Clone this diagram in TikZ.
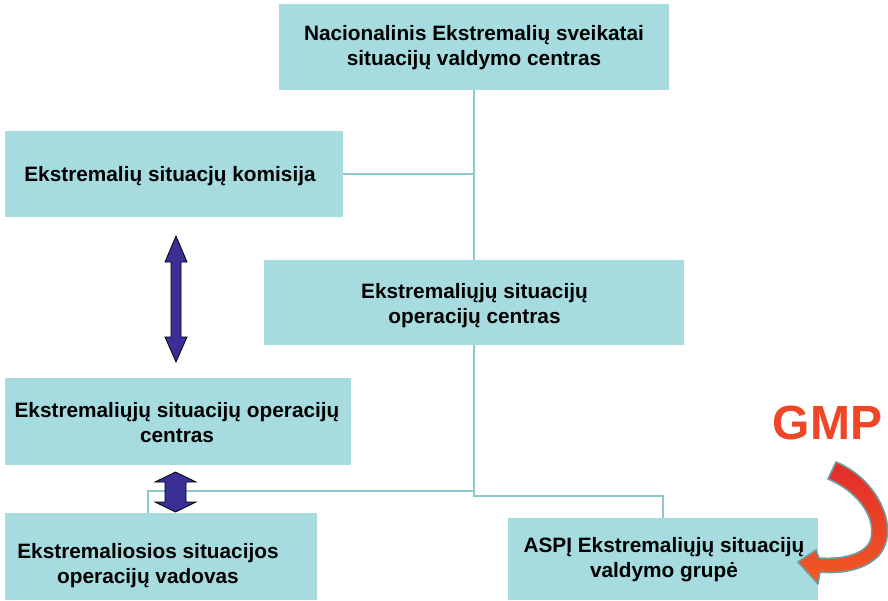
\documentclass[tikz,border=0pt]{standalone}
\usepackage{fontspec}
\setmainfont{Liberation Sans}
\definecolor{boxfill}{HTML}{A6DCE0}
\definecolor{linec}{HTML}{8CC8CE}
\definecolor{arrblue}{HTML}{3A2F96}
\definecolor{gmpred}{HTML}{EE4626}
\definecolor{redtop}{HTML}{E32B2B}
\definecolor{redbot}{HTML}{F15A24}
\definecolor{arrborder}{HTML}{6E9CA0}
\begin{document}
\begin{tikzpicture}[x=0.75pt,y=-0.75pt,
  box/.style={fill=boxfill,draw=none,inner sep=0pt},
  lbl/.style={font=\bfseries\fontsize{15.6}{18.75}\selectfont,align=center,inner sep=0pt},
  conn/.style={draw=linec,line width=1.5pt},
  dblarrow/.style={fill=arrblue,draw=black,line width=0.6pt,line join=miter}]
\useasboundingbox (0,0) rectangle (888,600);
% boxes
\node[box,minimum width=292.5pt,minimum height=64.5pt] (top) at (474,47) {};
\node[lbl] at (474,47.5) {Nacionalinis Ekstremalių sveikatai\\situacijų valdymo centras};
\node[box,minimum width=253.5pt,minimum height=64.5pt] (esk) at (174,174) {};
\node[lbl] at (170,176) {Ekstremalių situacjų komisija};
\node[box,minimum width=315pt,minimum height=63.75pt] (esoc) at (474,302.5) {};
\node[lbl] at (474.5,305.5) {Ekstremaliųjų situacijų\\operacijų centras};
\node[box,minimum width=259.5pt,minimum height=65.25pt] (esocl) at (178,421.5) {};
\node[lbl] at (177,422.5) {Ekstremaliųjų situacijų operacijų\\centras};
\node[box,minimum width=234pt,minimum height=65.25pt] (esov) at (161,556.5) {};
\node[lbl] at (148,565.5) {Ekstremaliosios situacijos\\operacijų vadovas};
\node[box,minimum width=232.5pt,minimum height=61.5pt] (aspi) at (663,559) {};
\node[lbl] at (664,560) {ASPĮ Ekstremaliųjų situacijų\\valdymo grupė};
% connectors
\coordinate (j1) at (esoc.south |- 0,491);
\coordinate (j2) at (esoc.south |- 0,496);
\draw[conn] (top.south) -- (esoc.north);
\draw[conn] (esk.east) -- (esk.east -| top.south);
\draw[conn] (esoc.south) -- (j2) -| (aspi.north);
\draw[conn] (j1) -| (148,513);
% big double arrow
\draw[dblarrow] (176,236) -- (187,262) -- (181,262) -- (181,337) -- (187,337) -- (176,362) -- (165,337) -- (171,337) -- (171,262) -- (165,262) -- cycle;
% small double arrow
\draw[dblarrow] (175.5,472) -- (196,482) -- (186,482) -- (186,502) -- (196,502) -- (175.5,512) -- (155,502) -- (165,502) -- (165,482) -- (155,482) -- cycle;
% GMP
\node[font=\bfseries\fontsize{36}{40}\selectfont,text=gmpred,inner sep=0pt] (gmp) at (827.5,423) {GMP};
% curved arrow
\draw[top color=redtop,bottom color=redbot,draw=arrborder,line width=1.2pt,line join=round]
  (836,462) .. controls (875,478) and (895,520) .. (885,545)
  .. controls (878,565) and (850,575) .. (820,572)
  -- (818,584) -- (798,562) -- (816,550) -- (819,558)
  .. controls (845,560) and (868,553) .. (871,538)
  .. controls (876,515) and (855,490) .. (828,479) -- cycle;
\end{tikzpicture}
\end{document}
